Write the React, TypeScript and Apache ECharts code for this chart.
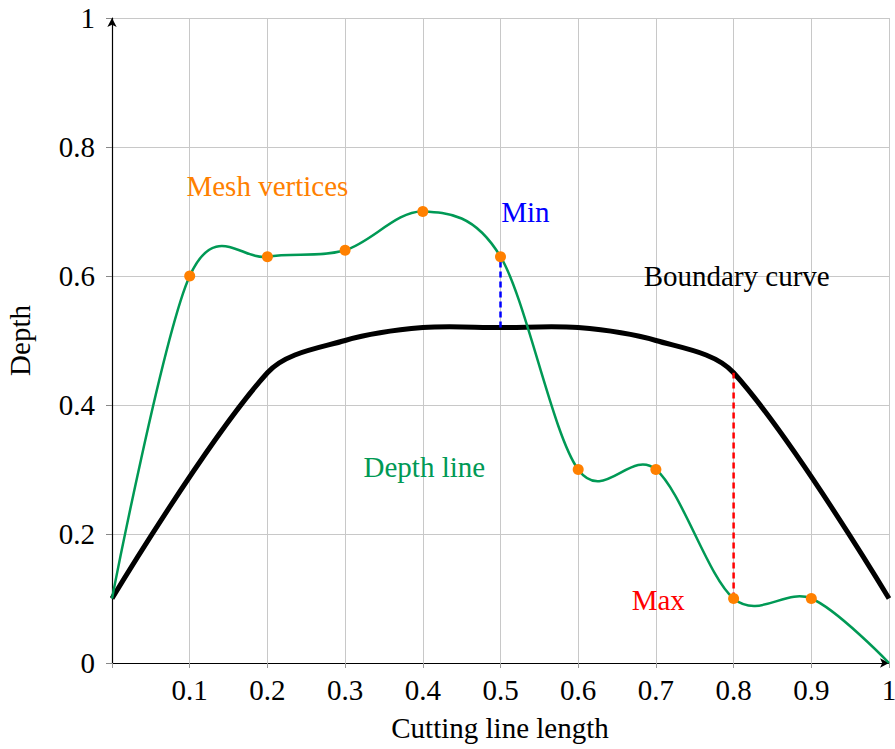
import React, { useEffect, useRef } from "react";
import * as echarts from "echarts";

const depthX = [0, 0.1, 0.2, 0.3, 0.4, 0.5, 0.6, 0.7, 0.8, 0.9, 1];
const depthY = [0.1, 0.6, 0.63, 0.64, 0.7, 0.63, 0.3, 0.3, 0.1, 0.1, 0];
const vertexX = [0.1, 0.2, 0.3, 0.4, 0.5, 0.6, 0.7, 0.8, 0.9];
const vertexY = [0.6, 0.63, 0.64, 0.7, 0.63, 0.3, 0.3, 0.1, 0.1];
const boundaryX = [0, 0.2, 0.3, 0.4, 0.5, 0.6, 0.7, 0.8, 1];
const boundaryY = [0.1, 0.45, 0.5, 0.52, 0.52, 0.52, 0.5, 0.45, 0.1];
const minSeg = [[0.5, 0.52], [0.5, 0.63]];
const maxSeg = [[0.8, 0.1], [0.8, 0.45]];
const annotations = [
  { text: "Mesh vertices", x: 0.2, y: 0.74, color: "#ff8000" },
  { text: "Min", x: 0.532, y: 0.7, color: "#0000ff" },
  { text: "Boundary curve", x: 0.804, y: 0.6, color: "#000000" },
  { text: "Depth line", x: 0.402, y: 0.304, color: "#009955" },
  { text: "Max", x: 0.703, y: 0.098, color: "#ff0000" },
];
const xAxisTitle = "Cutting line length";
const yAxisTitle = "Depth";

const FONT = "'Liberation Serif', 'DejaVu Serif', serif";
const FS = 29;
const TENSION = 0.165;

function smoothCurveSeries(
  xs: number[],
  ys: number[],
  color: string,
  width: number,
  z: number,
  lengthWeighted: boolean
) {
  return {
    type: "custom",
    data: xs.map((x, i) => [x, ys[i]]),
    z,
    silent: true,
    renderItem: (params: any, api: any) => {
      if (params.dataIndex !== 0) return null;
      const pts = xs.map((x, i) => api.coord([x, ys[i]]));
      const n = pts.length;
      const dist = (a: number[], b: number[]) => Math.hypot(a[0] - b[0], a[1] - b[1]);
      const outK: number[] = [];
      const inK: number[] = [];
      for (let i = 0; i < n; i++) {
        if (!lengthWeighted || i === 0 || i === n - 1) {
          outK.push(TENSION);
          inK.push(TENSION);
        } else {
          const lp = dist(pts[i], pts[i - 1]);
          const ln = dist(pts[i], pts[i + 1]);
          outK.push(TENSION * 2 * (ln / (lp + ln)));
          inK.push(TENSION * 2 * (lp / (lp + ln)));
        }
      }
      let d = `M${pts[0][0]},${pts[0][1]}`;
      for (let i = 0; i < n - 1; i++) {
        const p0 = pts[Math.max(i - 1, 0)];
        const p1 = pts[i];
        const p2 = pts[i + 1];
        const p3 = pts[Math.min(i + 2, n - 1)];
        const c1x = i === 0 ? p1[0] : p1[0] + outK[i] * (p2[0] - p0[0]);
        const c1y = i === 0 ? p1[1] : p1[1] + outK[i] * (p2[1] - p0[1]);
        const c2x = i === n - 2 ? p2[0] : p2[0] - inK[i + 1] * (p3[0] - p1[0]);
        const c2y = i === n - 2 ? p2[1] : p2[1] - inK[i + 1] * (p3[1] - p1[1]);
        d += ` C${c1x},${c1y} ${c2x},${c2y} ${p2[0]},${p2[1]}`;
      }
      return {
        type: "path",
        shape: { pathData: d },
        style: { fill: "none", stroke: color, lineWidth: width, lineJoin: "round", lineCap: "butt" },
      };
    },
  };
}

export default function App() {
  const ref = useRef<HTMLDivElement>(null);
  useEffect(() => {
    if (!ref.current) return;
    const chart = echarts.init(ref.current, null, { renderer: "svg" });
    const zip = (xs: number[], ys: number[]) => xs.map((x, i) => [x, ys[i]]);
    chart.setOption({
      animation: false,
      textStyle: { fontFamily: FONT },
      grid: {
        left: 112,
        right: 6,
        top: 18,
        bottom: 86,
        containLabel: false,
        outerBoundsMode: "none",
      },
      graphic: [
        {
          type: "text",
          x: 500,
          y: 728,
          style: {
            text: xAxisTitle,
            fontFamily: FONT,
            fontSize: FS,
            fill: "#000",
            align: "center",
            verticalAlign: "middle",
          },
        },
      ],
      xAxis: {
        type: "value",
        min: 0,
        max: 1,
        interval: 0.1,
        axisLine: {
          show: true,
          lineStyle: { color: "#000", width: 1.2 },
          symbol: ["none", "arrow"],
          symbolSize: [7, 9],
        },
        axisTick: { show: true, length: 5, lineStyle: { color: "#999" } },
        axisLabel: {
          fontFamily: FONT,
          fontSize: FS,
          color: "#000",
          margin: 12,
          formatter: (v: number) => (v === 0 ? "" : String(+v.toFixed(1))),
        },
        splitLine: { show: true, lineStyle: { color: "#c8c8c8", width: 1 } },
      },
      yAxis: {
        type: "value",
        min: 0,
        max: 1,
        interval: 0.2,
        name: yAxisTitle,
        nameLocation: "middle",
        nameGap: 78,
        nameMoveOverlap: false,
        nameTextStyle: { fontFamily: FONT, fontSize: FS, color: "#000" },
        axisLine: {
          show: true,
          lineStyle: { color: "#000", width: 1.2 },
          symbol: ["none", "arrow"],
          symbolSize: [7, 9],
        },
        axisTick: { show: true, length: 6, lineStyle: { color: "#888" } },
        axisLabel: {
          fontFamily: FONT,
          fontSize: FS,
          color: "#000",
          margin: 17,
          formatter: (v: number) => String(+v.toFixed(1)),
        },
        splitLine: { show: true, lineStyle: { color: "#c8c8c8", width: 1 } },
      },
      series: [
        smoothCurveSeries(boundaryX, boundaryY, "#000000", 5, 2, true),
        smoothCurveSeries(depthX, depthY, "#009955", 2.5, 3, false),
        {
          type: "line",
          name: "Min",
          data: minSeg,
          symbol: "none",
          lineStyle: { color: "#0000ff", width: 2.5, type: [6, 4] },
          z: 4,
        },
        {
          type: "line",
          name: "Max",
          data: maxSeg,
          symbol: "none",
          lineStyle: { color: "#ff0000", width: 2.5, type: [6, 4] },
          z: 4,
        },
        {
          type: "scatter",
          name: "Mesh vertices",
          data: zip(vertexX, vertexY),
          symbol: "circle",
          symbolSize: 11,
          itemStyle: { color: "#ff8000", opacity: 1 },
          z: 5,
        },
        ...annotations.map((a) => ({
          type: "scatter",
          name: a.text + " label",
          data: [[a.x, a.y]],
          symbolSize: 0,
          silent: true,
          itemStyle: { opacity: 1 },
          label: {
            show: true,
            position: "inside",
            formatter: a.text,
            color: a.color,
            fontFamily: FONT,
            fontSize: FS,
          },
          z: 6,
        })),
      ],
    });
    return () => chart.dispose();
  }, []);
  return (
    <div
      ref={ref}
      style={{ position: "fixed", left: 0, top: 0, width: 895, height: 749, background: "#fff" }}
    />
  );
}
